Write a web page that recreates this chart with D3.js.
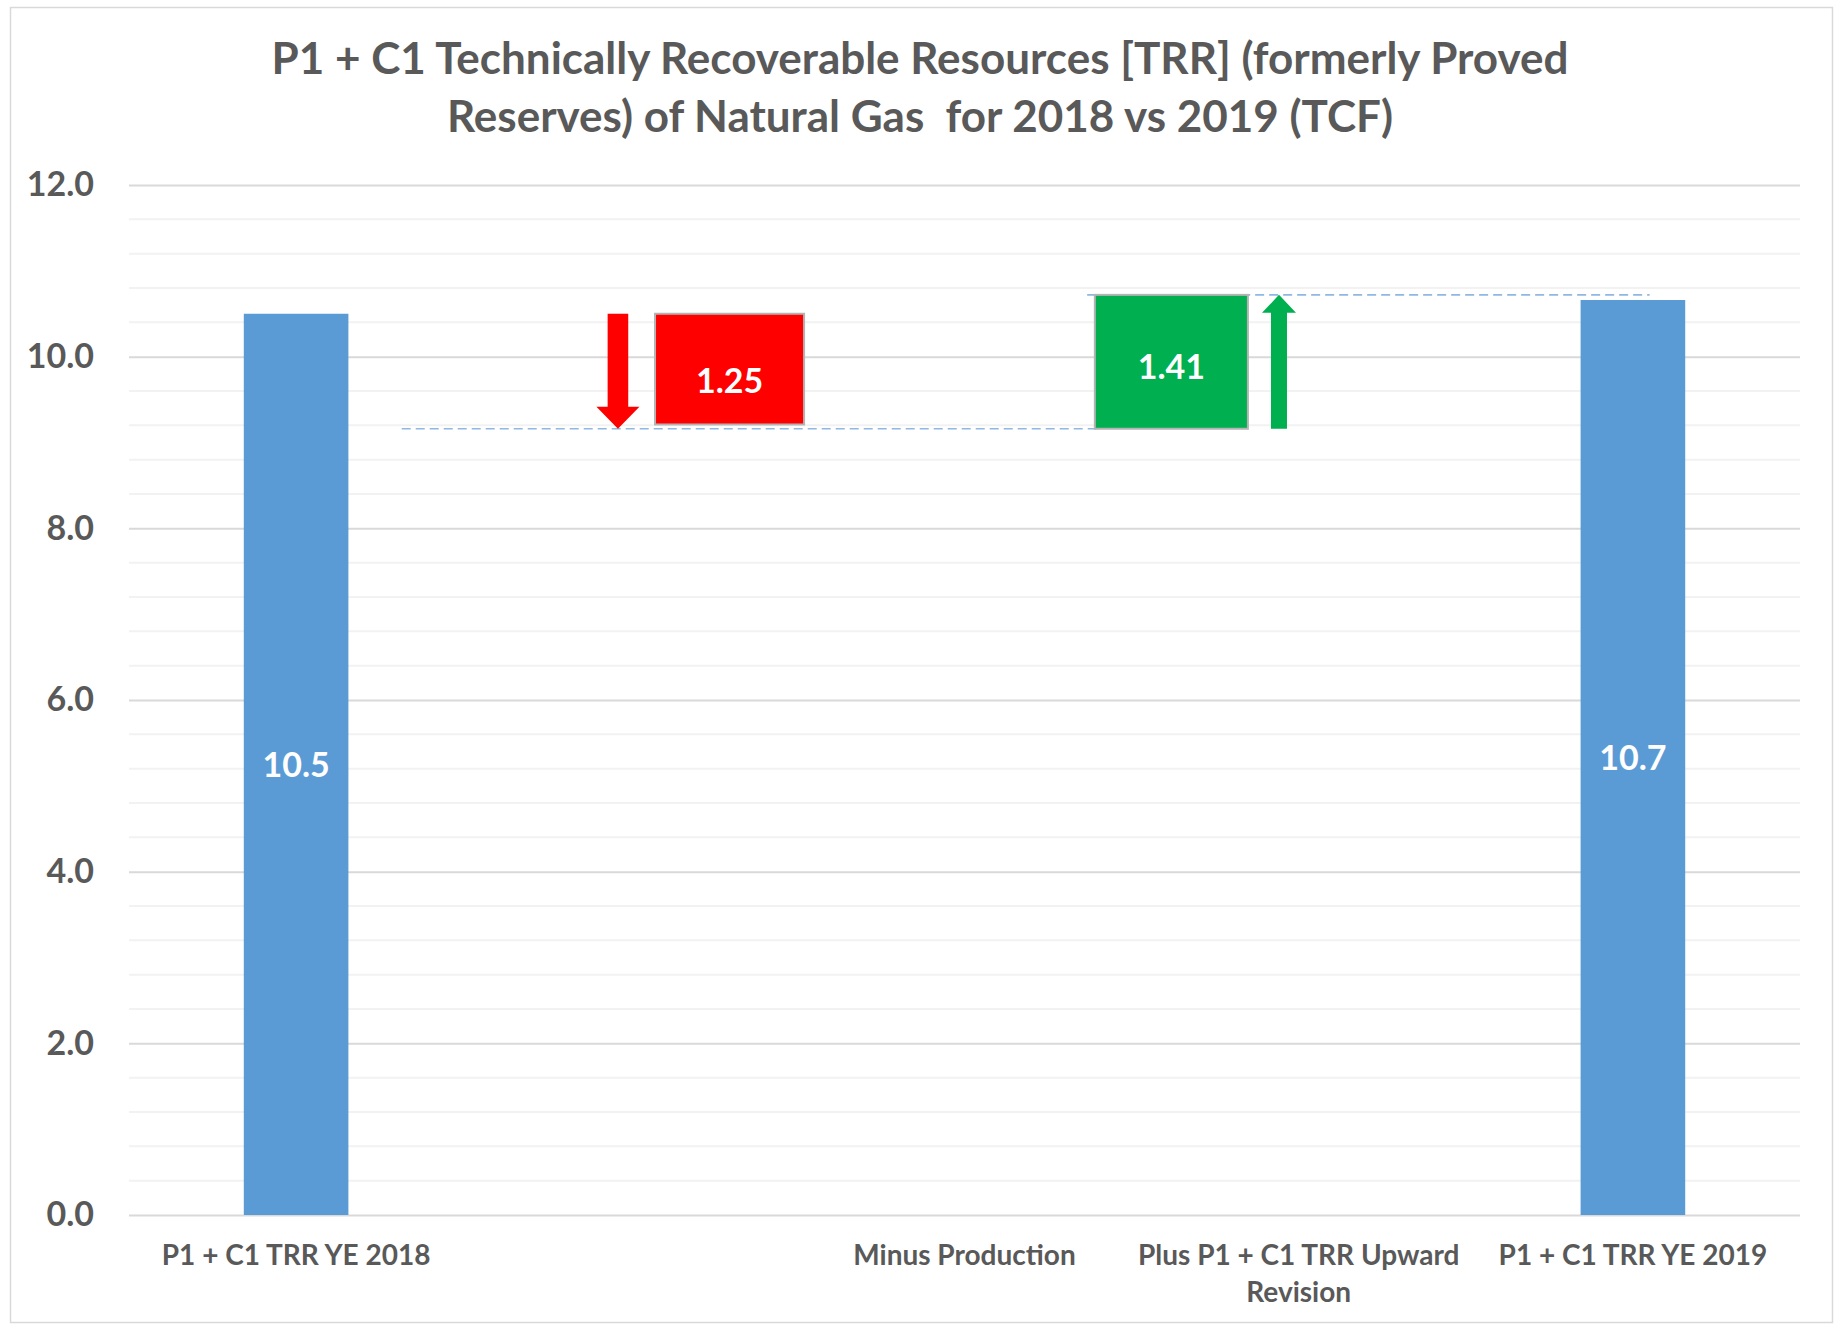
<!DOCTYPE html>
<html>
<head>
<meta charset="utf-8">
<script src="https://cdn.jsdelivr.net/npm/d3@7"></script>
<style>
  html, body { margin: 0; padding: 0; background: #ffffff; }
  svg { display: block; }
  text { font-family: Lato, "Open Sans", "DejaVu Sans", sans-serif; font-weight: bold; }
</style>
</head>
<body>
<svg id="chart" width="1835" height="1325"></svg>
<script>
// ---------------- DATA ----------------
const titleLines = [
  "P1 + C1 Technically Recoverable Resources [TRR] (formerly Proved",
  "Reserves) of Natural Gas  for 2018 vs 2019 (TCF)"
];
const categories = [
  "P1 + C1 TRR YE 2018",
  "",
  "Minus Production",
  "Plus P1 + C1 TRR Upward Revision",
  "P1 + C1 TRR YE 2019"
];
const categoryLines = [
  ["P1 + C1 TRR YE 2018"],
  [""],
  ["Minus Production"],
  ["Plus P1 + C1 TRR Upward", "Revision"],
  ["P1 + C1 TRR YE 2019"]
];
const totalValues = [10.5, null, null, null, 10.66];
const totalLabels = ["10.5", "", "", "", "10.7"];
const changeValues = [-1.25, 1.41];
const changeLabels = ["1.25", "1.41"];
// reserve levels as drawn by the connector lines: start, after production, after revision
const levels = [10.5, 9.16, 10.72];
const yTicks = [0, 2, 4, 6, 8, 10, 12];
const yMinorStep = 0.4;

// ---------------- LAYOUT ----------------
const W = 1835, H = 1325;
const plot = { left: 129, right: 1800, top: 185, bottom: 1215 };
const svg = d3.select("#chart");
const textColor = "#595959";

const y = d3.scaleLinear().domain([0, 12]).range([plot.bottom, plot.top]);
// x in "category index" units, category i centred at i
const x = d3.scaleLinear().domain([-0.5, categories.length - 0.5]).range([plot.left, plot.right]);
const step = x(1) - x(0);
const barW = step * 0.313;

// outer chart border
svg.append("rect")
  .attr("x", 10.5).attr("y", 7.5).attr("width", W - 13).attr("height", H - 10)
  .attr("fill", "none").attr("stroke", "#d9d9d9").attr("stroke-width", 1.5);

// title
svg.append("g").selectAll("text").data(titleLines).join("text")
  .attr("x", 920).attr("y", (d, i) => 74 + i * 58)
  .attr("text-anchor", "middle")
  .attr("font-size", 44)
  .attr("fill", textColor)
  .style("white-space", "pre")
  .text(d => d);

// gridlines
const minorVals = d3.range(0, 12 + 1e-9, yMinorStep).filter(v => Math.abs(v / 2 - Math.round(v / 2)) > 1e-6);
svg.append("g").selectAll("line").data(minorVals).join("line")
  .attr("x1", plot.left).attr("x2", plot.right)
  .attr("y1", d => y(d)).attr("y2", d => y(d))
  .attr("stroke", "#f2f2f2").attr("stroke-width", 2);

const yAxis = d3.axisLeft(y).tickValues(yTicks).tickFormat(d3.format(".1f"))
  .tickSize(-(plot.right - plot.left)).tickPadding(35);
const gy = svg.append("g").attr("transform", `translate(${plot.left},0)`).call(yAxis);
gy.select(".domain").remove();
gy.selectAll(".tick line").attr("stroke", "#d9d9d9").attr("stroke-width", 2);
gy.selectAll(".tick text")
  .attr("fill", textColor).attr("font-size", 34)
  .attr("font-family", "Lato, 'Open Sans', sans-serif").attr("font-weight", "bold");

// total bars
const totals = totalValues.map((v, i) => ({ v, i, label: totalLabels[i] })).filter(d => d.v != null);
svg.append("g").selectAll("rect").data(totals).join("rect")
  .attr("x", d => x(d.i) - barW / 2).attr("width", barW)
  .attr("y", d => y(d.v)).attr("height", d => y(0) - y(d.v))
  .attr("fill", "#5b9bd5");
svg.append("g").selectAll("text").data(totals).join("text")
  .attr("x", d => x(d.i)).attr("y", d => y(d.v / 2))
  .attr("dy", "0.36em")
  .attr("text-anchor", "middle").attr("font-size", 34).attr("fill", "#ffffff")
  .text(d => d.label);

// dashed connector lines
const connectors = [
  { x1: 0.316, x2: 2.405, v: levels[1] },
  { x1: 2.367, x2: 4.05, v: levels[2] }
];
svg.append("g").selectAll("line").data(connectors).join("line")
  .attr("x1", d => x(d.x1)).attr("x2", d => x(d.x2))
  .attr("y1", d => y(d.v)).attr("y2", d => y(d.v))
  .attr("stroke", "#8fb8e2").attr("stroke-width", 1.6).attr("stroke-dasharray", "9,5");

// change boxes
const boxes = [
  { x1: 1.074, x2: 1.52, from: levels[0], to: levels[1] + 0.05, fill: "#ff0000", label: changeLabels[0], dy: 12 },
  { x1: 2.39, x2: 2.848, from: levels[1], to: levels[2], fill: "#00b050", label: changeLabels[1], dy: 5 }
];
svg.append("g").selectAll("rect").data(boxes).join("rect")
  .attr("x", d => x(d.x1)).attr("width", d => x(d.x2) - x(d.x1))
  .attr("y", d => y(Math.max(d.from, d.to))).attr("height", d => Math.abs(y(d.from) - y(d.to)))
  .attr("fill", d => d.fill).attr("stroke", "#b4b4b4").attr("stroke-width", 2);
svg.append("g").selectAll("text").data(boxes).join("text")
  .attr("x", d => (x(d.x1) + x(d.x2)) / 2)
  .attr("y", d => y((d.from + d.to) / 2) + d.dy)
  .attr("dy", "0.36em")
  .attr("text-anchor", "middle").attr("font-size", 34).attr("fill", "#ffffff")
  .text(d => d.label);

// arrows
const arrows = [
  { c: 0.963, from: levels[0], to: levels[1], shaft: 20.6, head: 43, headLen: 22, fill: "#ff0000" },
  { c: 2.941, from: levels[1], to: levels[2], shaft: 16, head: 34, headLen: 18, fill: "#00b050" }
];
svg.append("g").selectAll("path").data(arrows).join("path")
  .attr("d", d => {
    const cx = x(d.c), y0 = y(d.from), y1 = y(d.to);
    const dir = y1 > y0 ? 1 : -1;
    const hb = y1 - dir * d.headLen;
    const s = d.shaft / 2, h = d.head / 2;
    return `M${cx - s},${y0} L${cx + s},${y0} L${cx + s},${hb} L${cx + h},${hb} L${cx},${y1} L${cx - h},${hb} L${cx - s},${hb} Z`;
  })
  .attr("fill", d => d.fill);

// category labels
const gx = svg.append("g");
categoryLines.forEach((lines, i) => {
  gx.append("text")
    .attr("x", x(i)).attr("y", 1265)
    .attr("text-anchor", "middle").attr("font-size", 28).attr("fill", textColor)
    .selectAll("tspan").data(lines).join("tspan")
    .attr("x", x(i)).attr("dy", (d, j) => j === 0 ? 0 : 36.7)
    .text(d => d);
});
</script>
</body>
</html>
